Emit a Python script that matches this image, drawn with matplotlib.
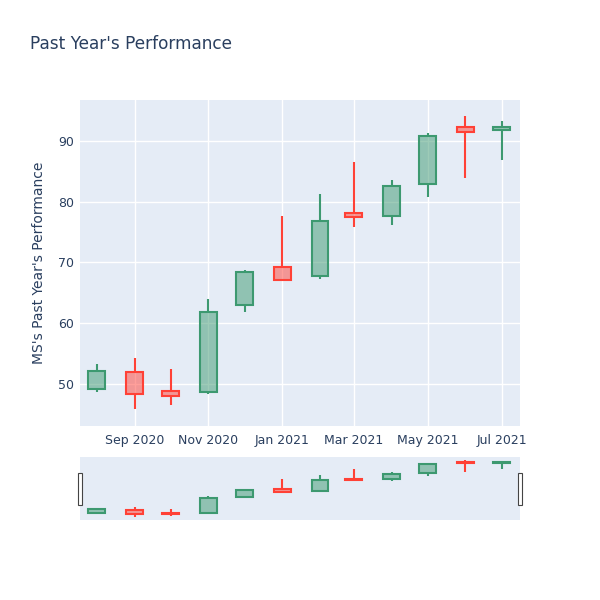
"""
plot.py - Past Year's Performance candlestick with range slider
"""

import numpy as np
import pandas as pd
import matplotlib
matplotlib.use('Agg')
import matplotlib.pyplot as plt
import matplotlib.dates as mdates
from matplotlib.patches import Rectangle

# 月度 K 线数据
dates = pd.to_datetime(['2020-08-01', '2020-09-01', '2020-10-01', '2020-11-01',
                        '2020-12-01', '2021-01-01', '2021-02-01', '2021-03-01',
                        '2021-04-01', '2021-05-01', '2021-06-01', '2021-07-01'])
opens = [49.2, 51.9, 48.8, 48.7, 63.0, 69.2, 67.7, 78.1, 77.7, 82.9, 92.3, 91.7]
highs = [53.3, 54.3, 52.5, 63.9, 68.8, 77.7, 81.2, 86.5, 83.6, 91.2, 94.1, 93.3]
lows = [48.7, 45.9, 46.5, 48.4, 61.8, 66.9, 67.3, 75.9, 76.1, 80.8, 83.8, 86.8]
closes = [52.2, 48.3, 48.1, 61.8, 68.5, 67.1, 76.8, 77.5, 82.5, 90.8, 91.4, 92.2]

y_ticks = [50, 60, 70, 80, 90]
title = "Past Year's Performance"
y_label = "MS's Past Year's Performance"

INC = '#3D9970'
DEC = '#FF4136'
BG = '#E5ECF6'
TXT = '#2a3f5f'


def draw_candles(ax, lw):
    """绘制 K 线"""
    width = pd.Timedelta(days=14)
    for d, o, h, l, c in zip(dates, opens, highs, lows, closes):
        col = INC if c >= o else DEC
        top, bot = max(o, c), min(o, c)
        ax.vlines(d, top, h, color=col, lw=lw, zorder=3)
        ax.vlines(d, l, bot, color=col, lw=lw, zorder=3)
        ax.bar(d, top - bot, bottom=bot, width=width, color=col, alpha=0.5,
               zorder=3, linewidth=0)
        ax.bar(d, top - bot, bottom=bot, width=width, fill=False,
               edgecolor=col, linewidth=lw, zorder=4)


fig = plt.figure(figsize=(6, 6), dpi=100)
xlim = (pd.Timestamp('2020-07-18'), pd.Timestamp('2021-07-16'))
ylim = (43.1, 96.7)

# 主图
ax = fig.add_axes([80 / 600, 1 - 426 / 600, 440 / 600, 326 / 600])
ax.set_facecolor(BG)
draw_candles(ax, 1.5)
ax.set_xlim(xlim)
ax.set_ylim(ylim)
ax.set_yticks(y_ticks)
ax.xaxis.set_major_locator(mdates.MonthLocator(bymonth=[1, 3, 5, 7, 9, 11]))
ax.xaxis.set_major_formatter(mdates.DateFormatter('%b %Y'))
ax.grid(True, color='white', lw=1)
ax.set_axisbelow(True)
for s in ax.spines.values():
    s.set_visible(False)
ax.tick_params(length=0, labelsize=9, labelcolor=TXT, pad=4)
ax.tick_params(axis='x', pad=6)
ax.set_ylabel(y_label, fontsize=10, color=TXT, labelpad=9)

fig.text(30 / 600, 1 - 44 / 600, title, fontsize=12.2, color=TXT, va='center')

# 范围滑块
ax2 = fig.add_axes([80 / 600, 1 - 520 / 600, 440 / 600, 63 / 600])
ax2.set_facecolor(BG)
draw_candles(ax2, 1.5)
ax2.set_xlim(xlim)
ax2.set_ylim(ylim)
ax2.set_xticks([])
ax2.set_yticks([])
for s in ax2.spines.values():
    s.set_visible(False)

for hx in (77.5, 518):
    fig.patches.append(Rectangle((hx / 600, 1 - 505 / 600), 4 / 600, 32 / 600,
                                 transform=fig.transFigure, facecolor='white',
                                 edgecolor='#444444', lw=0.8))

fig.savefig('out.png', dpi=100)
